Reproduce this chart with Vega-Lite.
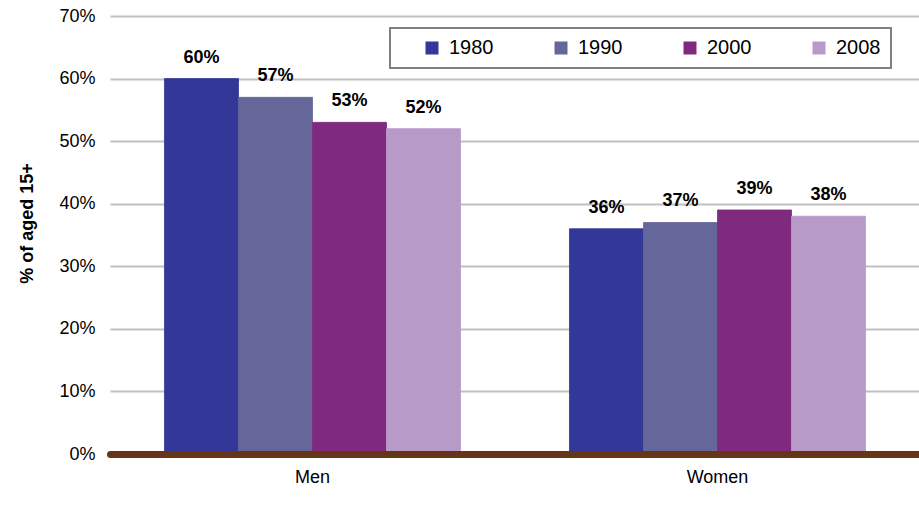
{
  "$schema": "https://vega.github.io/schema/vega-lite/v6.json",
  "autosize": "none",
  "width": 810,
  "height": 438,
  "padding": {"left": 110, "top": 16, "right": 0, "bottom": 61},
  "background": "white",
  "config": {
    "view": {"stroke": null},
    "font": "Liberation Sans"
  },
  "data": {
    "values": [
      {"sex": "Men", "year": "1980", "value": 0.60},
      {"sex": "Men", "year": "1990", "value": 0.57},
      {"sex": "Men", "year": "2000", "value": 0.53},
      {"sex": "Men", "year": "2008", "value": 0.52},
      {"sex": "Women", "year": "1980", "value": 0.36},
      {"sex": "Women", "year": "1990", "value": 0.37},
      {"sex": "Women", "year": "2000", "value": 0.39},
      {"sex": "Women", "year": "2008", "value": 0.38}
    ]
  },
  "encoding": {
    "x": {
      "field": "sex", "type": "nominal",
      "scale": {"paddingInner": 0.269, "paddingOuter": 0.1345},
      "axis": {
        "title": null, "labelAngle": 0, "ticks": false,
        "labelFontSize": 18, "labelColor": "#000000", "labelPadding": 14,
        "domainColor": "#663515", "domainWidth": 7, "domainCap": "round",
        "zindex": 2
      }
    },
    "xOffset": {"field": "year", "type": "nominal", "scale": {"paddingInner": 0, "paddingOuter": 0}},
    "y": {
      "field": "value", "type": "quantitative",
      "scale": {"domain": [0, 0.7], "nice": false},
      "axis": {
        "title": "% of aged 15+",
        "titleFontSize": 18, "titleFontWeight": "bold", "titleColor": "#000000",
        "titleAngle": -90, "titleX": -83, "titleY": 207, "titleBaseline": "middle", "titleAlign": "center",
        "values": [0, 0.1, 0.2, 0.3, 0.4, 0.5, 0.6, 0.7],
        "format": ".0%",
        "labelFontSize": 18, "labelColor": "#000000", "labelPadding": 15,
        "ticks": false, "domain": false,
        "grid": true, "gridColor": "#c0c0c0", "gridWidth": 2
      }
    }
  },
  "layer": [
    {
      "mark": {"type": "bar", "strokeWidth": 0.8},
      "encoding": {
        "stroke": {
          "field": "year", "type": "nominal",
          "scale": {"domain": ["1980", "1990", "2000", "2008"], "range": ["#333797", "#656699", "#7f2a7e", "#b79ac8"]},
          "legend": null
        },
        "color": {
          "field": "year", "type": "nominal",
          "scale": {"domain": ["1980", "1990", "2000", "2008"], "range": ["#333797", "#656699", "#7f2a7e", "#b79ac8"]},
          "legend": {
            "title": null, "orient": "none", "legendX": 280, "legendY": 12,
            "direction": "horizontal", "columns": 4,
            "symbolType": "square", "symbolSize": 169, "symbolStrokeWidth": 0, "symbolOpacity": 1,
            "symbolOffset": 22,
            "labelFontSize": 20, "labelColor": "#000000", "labelOffset": 7,
            "columnPadding": 35, "padding": 10,
            "strokeColor": "#808080", "fillColor": "#ffffff",
            "encode": {"legend": {"update": {"strokeWidth": {"value": 2}}}}
          }
        }
      }
    },
    {
      "mark": {"type": "text", "fontWeight": "bold", "fontSize": 18, "baseline": "alphabetic", "dy": -16, "color": "#000000"},
      "encoding": {
        "text": {"field": "value", "type": "quantitative", "format": ".0%"}
      }
    }
  ]
}
